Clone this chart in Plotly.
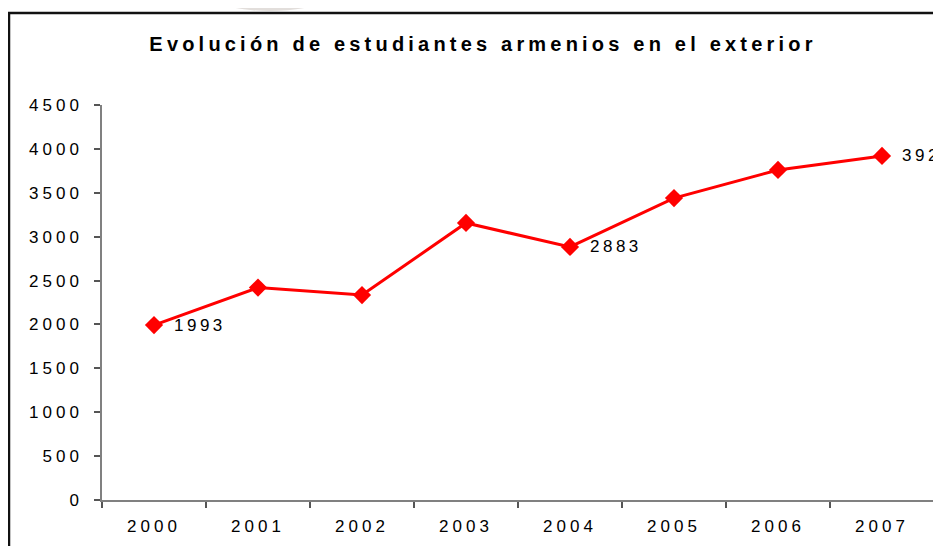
import plotly.graph_objects as go

years = ["2000", "2001", "2002", "2003", "2004", "2005", "2006", "2007"]
students = [1993, 2420, 2335, 3156, 2883, 3440, 3760, 3920]
labeled_years = ["2000", "2004", "2007"]
y_ticks = [0, 500, 1000, 1500, 2000, 2500, 3000, 3500, 4000, 4500]
title_text = "Evolución de estudiantes armenios en el exterior"

W, H = 941, 546
OFF = 8  # page body margin
ML, MR, MT, MB = 94, 15, 97, 54
PW, PH = W - ML - MR, H - MT - MB


def px(x):
    return ((x - OFF) - ML) / PW


def py(y):
    return ((H - MB) - (y - OFF)) / PH


def spaced(s, ls):
    return f'<span style="letter-spacing:{ls}px">{s}</span>'


FONT = "Liberation Sans, Arial, sans-serif"

fig = go.Figure()
fig.add_trace(go.Scatter(
    x=years, y=students, mode="lines+markers",
    line=dict(color="#ff0000", width=3),
    marker=dict(symbol="diamond", size=14, color="#ff0000"),
    hoverinfo="x+y", showlegend=False,
))

for i, (yr, v) in enumerate(zip(years, students)):
    if yr in labeled_years:
        fig.add_annotation(
            x=i, y=v, xref="x", yref="y",
            text=spaced(str(v), 3.5), showarrow=False,
            xanchor="left", yanchor="middle", xshift=18,
            font=dict(family=FONT, size=17, color="#000000"),
        )

fig.update_layout(
    width=W, height=H,
    margin=dict(l=ML, r=MR, t=MT, b=MB),
    paper_bgcolor="white", plot_bgcolor="white",
    title=dict(
        text=spaced(f"<b>{title_text}</b>", 4.2),
        x=(483 - OFF) / W, xanchor="center", xref="container",
        y=1 - (44 - OFF) / H, yanchor="middle", yref="container",
        font=dict(family=FONT, size=20, color="#000000"),
    ),
    xaxis=dict(
        type="category", range=[-0.5, 7.5],
        tickmode="array", tickvals=years,
        ticktext=[spaced(y, 4) for y in years],
        tickson="boundaries", ticks="outside", ticklen=6, tickwidth=1.5,
        tickcolor="#555555",
        showline=True, linecolor="#808080", linewidth=2,
        showgrid=False, zeroline=False,
        tickfont=dict(family=FONT, size=17, color="#000000"),
        ticklabelstandoff=10,
        fixedrange=True,
    ),
    yaxis=dict(
        range=[0, 4500], tickmode="array", tickvals=y_ticks,
        ticktext=[spaced(str(t), 4) for t in y_ticks],
        ticks="outside", ticklen=6, tickwidth=1.5, tickcolor="#555555",
        showline=True, linecolor="#808080", linewidth=1.5,
        showgrid=False, zeroline=False,
        tickfont=dict(family=FONT, size=17, color="#000000"),
        ticklabelstandoff=8,
        fixedrange=True,
    ),
    shapes=[
        dict(type="circle", xref="paper", yref="paper",
             x0=px(179), x1=px(361), y0=py(-70), y1=py(11),
             fillcolor="#e2dedb", line=dict(width=0), layer="below"),
        dict(type="line", xref="paper", yref="paper",
             x0=px(9), x1=px(9), y0=py(13), y1=py(600),
             line=dict(color="#111111", width=2.5)),
        dict(type="line", xref="paper", yref="paper",
             x0=px(8), x1=px(1000), y0=py(13), y1=py(13),
             line=dict(color="#111111", width=2.5)),
    ],
)

fig.write_html("out.html")
